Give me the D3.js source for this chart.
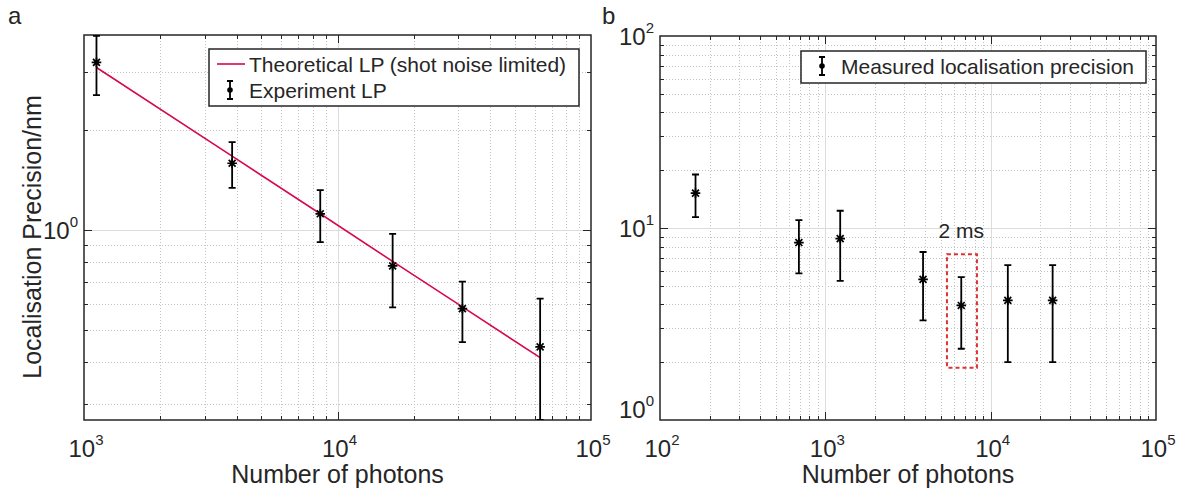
<!DOCTYPE html>
<html>
<head>
  <meta charset="utf-8">
  <title>Localisation precision vs number of photons</title>
  <style>
    body { margin: 0; background: #fff; }
    text {
      font-family: "Liberation Sans", Arial, Helvetica, sans-serif;
      fill: #262626;
    }
    .frame { fill: none; stroke: #262626; stroke-width: 1.5px; }
    .grid-major { stroke: #dcdcdc; stroke-width: 1px; }
    .grid-minor { stroke: #c2c2c2; stroke-width: 1px; stroke-dasharray: 1,2; }
    .tick { stroke: #262626; stroke-width: 1px; }
    .err { stroke: #000; stroke-width: 1.8px; fill: none; }
    .marker { stroke: #000; stroke-width: 1.7px; fill: none; }
    .theory { stroke: #d6084f; stroke-width: 1.6px; fill: none; }
    .legend-box { fill: #fff; stroke: #262626; stroke-width: 1.5px; }
    .hl-box { fill: none; stroke: #e03131; stroke-width: 2px; stroke-dasharray: 4,3; }
  </style>
</head>
<body>
  <script src="https://d3js.org/d3.v7.min.js"></script>
  <svg width="1190" height="495"></svg>
  <script>
    // ---- panel a: theoretical vs experimental LP
    var photonsA = [1120, 3840, 8550, 16500, 31100, 63000];
    var lpA      = [3.20, 1.59, 1.12, 0.78, 0.58, 0.445];
    var lpErrA   = [0.65, 0.25, 0.20, 0.195, 0.12, 0.177];
    var theoryA  = [3.09, 1.67, 1.12, 0.805, 0.587, 0.413];
    var xTicksA  = [1e3, 1e4, 1e5];
    var yTicksA  = [1];

    // ---- panel b: measured localisation precision
    var photonsB = [164, 692, 1230, 3900, 6640, 12700, 23700];
    var lpB      = [15.2, 8.4, 8.8, 5.4, 3.95, 4.2, 4.2];
    var lpErrB   = [3.8, 2.6, 3.5, 2.1, 1.6, 2.2, 2.2];
    var xTicksB  = [1e2, 1e3, 1e4, 1e5];
    var yTicksB  = [1, 10, 100];
    var boxB     = { x: [5440, 8260], y: [1.87, 7.3] };   // "2 ms" highlight
    var noteB    = { x: 6650, y: 8.9, text: "2 ms" };

    var svg = d3.select("svg");

    function minorsFor(domain) {
      var out = [];
      var lo = Math.floor(Math.log10(domain[0])), hi = Math.ceil(Math.log10(domain[1]));
      for (var d = lo; d < hi; d++) {
        for (var k = 2; k <= 9; k++) {
          var v = k * Math.pow(10, d);
          if (v > domain[0] * 1.0001 && v < domain[1] * 0.9999) out.push(v);
        }
      }
      return out;
    }

    function powLabel(sel, v) {
      var e = Math.round(Math.log10(v));
      sel.append("tspan").text("10");
      sel.append("tspan").attr("dy", -12).attr("font-size", 15).text(e);
    }

    function asterisk(s) {
      var d = 0.72 * s;
      return "M" + (-s) + ",0h" + (2 * s) + "M0," + (-s) + "v" + (2 * s) +
             "M" + (-d) + "," + (-d) + "l" + (2 * d) + "," + (2 * d) +
             "M" + (-d) + "," + d + "l" + (2 * d) + "," + (-2 * d);
    }

    function drawPanel(p) {
      var g = svg.append("g");
      var x = d3.scaleLog().domain(p.xDomain).range([p.x0, p.x1]);
      var y = d3.scaleLog().domain(p.yDomain).range([p.y1, p.y0]);

      var clipId = "clip-" + p.name;
      svg.append("clipPath").attr("id", clipId).append("rect")
          .attr("x", p.x0).attr("y", p.y0)
          .attr("width", p.x1 - p.x0).attr("height", p.y1 - p.y0);

      var xMin = minorsFor(p.xDomain), yMin = minorsFor(p.yDomain);
      var xMaj = p.xTicks.filter(function(v) { return v > p.xDomain[0] && v < p.xDomain[1]; });
      var yMaj = p.yTicks.filter(function(v) { return v > p.yDomain[0] && v < p.yDomain[1]; });

      // grid
      g.selectAll(".gxm").data(xMin).enter().append("line").attr("class", "grid-minor")
          .attr("x1", function(d) { return Math.round(x(d)) + 0.5; })
          .attr("x2", function(d) { return Math.round(x(d)) + 0.5; })
          .attr("y1", p.y0).attr("y2", p.y1);
      g.selectAll(".gym").data(yMin).enter().append("line").attr("class", "grid-minor")
          .attr("y1", function(d) { return Math.round(y(d)) + 0.5; })
          .attr("y2", function(d) { return Math.round(y(d)) + 0.5; })
          .attr("x1", p.x0).attr("x2", p.x1);
      g.selectAll(".gxM").data(xMaj).enter().append("line").attr("class", "grid-major")
          .attr("x1", function(d) { return Math.round(x(d)) + 0.5; })
          .attr("x2", function(d) { return Math.round(x(d)) + 0.5; })
          .attr("y1", p.y0).attr("y2", p.y1);
      g.selectAll(".gyM").data(yMaj).enter().append("line").attr("class", "grid-major")
          .attr("y1", function(d) { return Math.round(y(d)) + 0.5; })
          .attr("y2", function(d) { return Math.round(y(d)) + 0.5; })
          .attr("x1", p.x0).attr("x2", p.x1);

      // ticks, inward on all four sides
      var ticks = [];
      xMin.forEach(function(v) { ticks.push({ v: v, ax: "x", len: 4 }); });
      xMaj.forEach(function(v) { ticks.push({ v: v, ax: "x", len: 8 }); });
      yMin.forEach(function(v) { ticks.push({ v: v, ax: "y", len: 4 }); });
      yMaj.forEach(function(v) { ticks.push({ v: v, ax: "y", len: 8 }); });
      ticks.forEach(function(t) {
        if (t.ax === "x") {
          var px = Math.round(x(t.v)) + 0.5;
          g.append("line").attr("class", "tick").attr("x1", px).attr("x2", px).attr("y1", p.y1).attr("y2", p.y1 - t.len);
          g.append("line").attr("class", "tick").attr("x1", px).attr("x2", px).attr("y1", p.y0).attr("y2", p.y0 + t.len);
        } else {
          var py = Math.round(y(t.v)) + 0.5;
          g.append("line").attr("class", "tick").attr("y1", py).attr("y2", py).attr("x1", p.x0).attr("x2", p.x0 + t.len);
          g.append("line").attr("class", "tick").attr("y1", py).attr("y2", py).attr("x1", p.x1).attr("x2", p.x1 - t.len);
        }
      });

      g.append("rect").attr("class", "frame")
          .attr("x", p.x0).attr("y", p.y0).attr("width", p.x1 - p.x0).attr("height", p.y1 - p.y0);

      // tick labels
      p.xTicks.forEach(function(v) {
        var t = g.append("text").attr("x", x(v) + 2).attr("y", p.y1 + 37)
            .attr("text-anchor", "middle").attr("font-size", 24);
        powLabel(t, v);
      });
      p.yTicks.forEach(function(v) {
        var by = Math.min(y(v) + 9, p.y1 - 2);
        var t = g.append("text").attr("x", p.x0 - 6).attr("y", by)
            .attr("text-anchor", "end").attr("font-size", 24);
        powLabel(t, v);
      });

      // axis titles
      g.append("text").attr("x", (p.x0 + p.x1) / 2).attr("y", 483)
          .attr("text-anchor", "middle").attr("font-size", 25).text("Number of photons");
      if (p.yLabel) {
        g.append("text")
            .attr("transform", "translate(" + (p.x0 - 43) + "," + 237 + ") rotate(-90)")
            .attr("text-anchor", "middle").attr("font-size", 25)
            .text(p.yLabel);
      }
      g.append("text").attr("x", p.tagX).attr("y", 24).attr("font-size", 24).text(p.name);

      var plot = g.append("g").attr("clip-path", "url(#" + clipId + ")");

      if (p.theory) {
        plot.append("path").attr("class", "theory")
            .attr("d", d3.line().x(function(d, i) { return x(p.xs[i]); }).y(function(d) { return y(d); })(p.theory));
      }

      if (p.box) {
        plot.append("rect").attr("class", "hl-box")
            .attr("x", x(p.box.x[0])).attr("y", y(p.box.y[1]))
            .attr("width", x(p.box.x[1]) - x(p.box.x[0]))
            .attr("height", y(p.box.y[0]) - y(p.box.y[1]));
      }

      var pts = p.xs.map(function(v, i) { return { x: v, y: p.ys[i], e: p.errs[i] }; });
      var bars = plot.selectAll(".bar").data(pts).enter().append("g");
      bars.append("path").attr("class", "err").attr("d", function(d) {
        var cx = x(d.x), top = y(d.y + d.e), bot = y(Math.max(d.y - d.e, 1e-6)), c = 3.5;
        return "M" + cx + "," + top + "V" + bot +
               "M" + (cx - c) + "," + top + "h" + (2 * c) +
               "M" + (cx - c) + "," + bot + "h" + (2 * c);
      });
      bars.append("path").attr("class", "marker")
          .attr("transform", function(d) { return "translate(" + x(d.x) + "," + y(d.y) + ")"; })
          .attr("d", asterisk(4.8));

      if (p.note) {
        g.append("text").attr("x", x(p.note.x)).attr("y", y(p.note.y))
            .attr("text-anchor", "middle").attr("font-size", 21).text(p.note.text);
      }

      // legend
      var L = p.legend;
      var lg = g.append("g");
      lg.append("rect").attr("class", "legend-box")
          .attr("x", L.x).attr("y", L.y).attr("width", L.w).attr("height", L.h);
      L.items.forEach(function(it, i) {
        var cy = L.y + 15 + i * 26;
        if (it.kind === "line") {
          lg.append("line").attr("class", "theory")
              .attr("x1", L.x + 8).attr("x2", L.x + 36).attr("y1", cy).attr("y2", cy);
        } else {
          var cx = L.x + 21;
          lg.append("path").attr("class", "err").attr("stroke-width", 1.6)
              .attr("d", "M" + cx + "," + (cy - 9) + "V" + (cy + 9) +
                         "M" + (cx - 3) + "," + (cy - 9) + "h6M" + (cx - 3) + "," + (cy + 9) + "h6");
          lg.append("circle").attr("cx", cx).attr("cy", cy).attr("r", 2.8).attr("fill", "#000");
        }
        lg.append("text").attr("x", L.x + 40).attr("y", cy + 8)
            .attr("font-size", 21).text(it.label);
      });
    }

    drawPanel({
      name: "a", tagX: 8,
      x0: 84, x1: 591, y0: 35, y1: 420,
      xDomain: [1e3, 1e5], yDomain: [0.268, 3.87],
      xTicks: xTicksA, yTicks: yTicksA,
      xs: photonsA, ys: lpA, errs: lpErrA, theory: theoryA,
      yLabel: "Localisation Precision/nm",
      legend: { x: 209, y: 49, w: 370, h: 57, items: [
        { kind: "line", label: "Theoretical LP (shot noise limited)" },
        { kind: "err", label: "Experiment LP" }
      ] }
    });

    drawPanel({
      name: "b", tagX: 602,
      x0: 660, x1: 1156, y0: 36, y1: 420,
      xDomain: [1e2, 1e5], yDomain: [1, 100],
      xTicks: xTicksB, yTicks: yTicksB,
      xs: photonsB, ys: lpB, errs: lpErrB, box: boxB, note: noteB,
      legend: { x: 801, y: 51, w: 345, h: 32, items: [
        { kind: "err", label: "Measured localisation precision" }
      ] }
    });
  </script>
</body>
</html>
